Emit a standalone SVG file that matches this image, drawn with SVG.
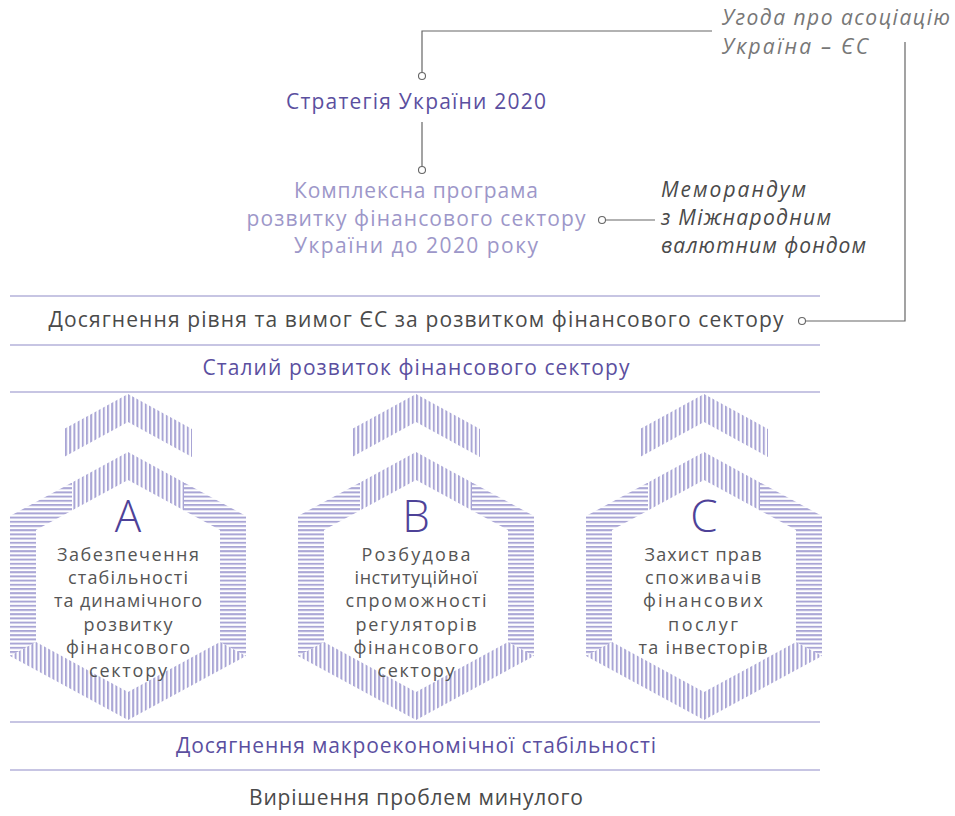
<svg xmlns="http://www.w3.org/2000/svg" width="955" height="816" viewBox="0 0 955 816">
<style>
.t{font-family:"Open Sans","Liberation Sans",sans-serif;font-size:21px;text-anchor:middle}
.dk{fill:#5b4f9f}
.lt{fill:#9d97c9}
.gr{fill:#4a4a4a}
.it{font-family:"Open Sans","Liberation Sans",sans-serif;font-size:21px;font-style:italic;fill:#4a4a4a}
.ig{fill:#777}
.h{font-family:"Open Sans","Liberation Sans",sans-serif;font-size:18px;text-anchor:middle;fill:#555}
.L{font-family:"Open Sans","Liberation Sans",sans-serif;font-size:44px;text-anchor:middle;fill:#4e4298;font-weight:300}
.rule{stroke:#b5b2da;stroke-width:1.6;fill:none}
.con{stroke:#666;stroke-width:1.2;fill:none}
.dot{stroke:#666;stroke-width:1.1;fill:#fff}
.vh{fill:url(#pv)}
.hh{fill:url(#ph)}
</style>
<defs>
<pattern id="pv" patternUnits="userSpaceOnUse" width="4.2" height="10"><rect x="0" y="0" width="2" height="10" fill="#a9a5d5"/></pattern>
<pattern id="ph" patternUnits="userSpaceOnUse" width="10" height="4.2"><rect x="0" y="0" width="10" height="2" fill="#a9a5d5"/></pattern>
<g id="hex">
<polygon class="vh" points="-64,429 0,394 64,429 64,457 0,422 -64,457"/>
<polygon class="vh" points="-56,482.4 0,452 56,482.4 56,510.4 0,480 -56,510.4"/>
<polygon class="hh" points="-118,516 -56,482.4 -56,510.4 -92,530 -92,642 -118,656"/>
<polygon class="hh" points="118,516 56,482.4 56,510.4 92,530 92,642 118,656"/>
<polygon class="vh" points="-118,656 0,720 118,656 92,642 0,692 -92,642"/>
</g>
</defs>

<g id="rules">
<line class="rule" x1="10" y1="296" x2="820" y2="296"/>
<line class="rule" x1="10" y1="345" x2="820" y2="345"/>
<line class="rule" x1="10" y1="392" x2="820" y2="392"/>
<line class="rule" x1="10" y1="722" x2="820" y2="722"/>
<line class="rule" x1="10" y1="770" x2="820" y2="770"/>
</g>

<g id="connectors">
<polyline class="con" points="712,31 422,31 422,72.5"/>
<line class="con" x1="422" y1="122" x2="422" y2="166.5"/>
<line class="con" x1="605.5" y1="220" x2="655" y2="220"/>
<polyline class="con" points="905,42 905,321 805.5,321"/>
<circle class="dot" cx="422" cy="76" r="3.5"/>
<circle class="dot" cx="422" cy="170" r="3.5"/>
<circle class="dot" cx="602" cy="220" r="3.5"/>
<circle class="dot" cx="802" cy="321" r="3.5"/>
</g>

<g id="ugoda">
<text class="it ig" x="722" y="25" textLength="228">Угода про асоціацію</text>
<text class="it ig" x="722" y="54" textLength="146">Україна – ЄС</text>
</g>
<g id="strategy">
<text class="t dk" x="416" y="109" textLength="260">Стратегія України 2020</text>
</g>
<g id="program">
<text class="t lt" x="416" y="198" textLength="244">Комплексна програма</text>
<text class="t lt" x="416" y="226" textLength="339">розвитку фінансового сектору</text>
<text class="t lt" x="416" y="253" textLength="244">України до 2020 року</text>
</g>
<g id="memo">
<text class="it" x="661" y="197" textLength="145">Меморандум</text>
<text class="it" x="661" y="225" textLength="170">з Міжнародним</text>
<text class="it" x="661" y="253" textLength="205">валютним фондом</text>
</g>
<g id="eu-level">
<text class="t gr" x="416" y="327" textLength="735">Досягнення рівня та вимог ЄС за розвитком фінансового сектору</text>
</g>
<g id="sustainable">
<text class="t dk" x="416" y="375" textLength="427">Сталий розвиток фінансового сектору</text>
</g>

<g id="node-A">
<use href="#hex" x="128"/>
<text class="L" x="128" y="532">A</text>
<text class="h" x="128" y="561" textLength="142">Забезпечення</text>
<text class="h" x="128" y="584" textLength="120">стабільності</text>
<text class="h" x="128" y="607" textLength="148">та динамічного</text>
<text class="h" x="128" y="631" textLength="89">розвитку</text>
<text class="h" x="128" y="654" textLength="124">фінансового</text>
<text class="h" x="128" y="677" textLength="78">сектору</text>
</g>
<g id="node-B">
<use href="#hex" x="416"/>
<text class="L" x="416" y="532">B</text>
<text class="h" x="416" y="561" textLength="109">Розбудова</text>
<text class="h" x="416" y="584" textLength="123">інституційної</text>
<text class="h" x="416" y="607" textLength="141">спроможності</text>
<text class="h" x="416" y="631" textLength="121">регуляторів</text>
<text class="h" x="416" y="654" textLength="125">фінансового</text>
<text class="h" x="416" y="677" textLength="77">сектору</text>
</g>
<g id="node-C">
<use href="#hex" x="704"/>
<text class="L" x="704" y="532">C</text>
<text class="h" x="703" y="561" textLength="117">Захист прав</text>
<text class="h" x="703" y="584" textLength="116">споживачів</text>
<text class="h" x="703" y="607" textLength="120">фінансових</text>
<text class="h" x="703" y="631" textLength="70">послуг</text>
<text class="h" x="703" y="654" textLength="129">та інвесторів</text>
</g>

<g id="macro">
<text class="t dk" x="416" y="753" textLength="480">Досягнення макроекономічної стабільності</text>
</g>
<g id="past">
<text class="t gr" x="416" y="805" textLength="334">Вирішення проблем минулого</text>
</g>
</svg>
